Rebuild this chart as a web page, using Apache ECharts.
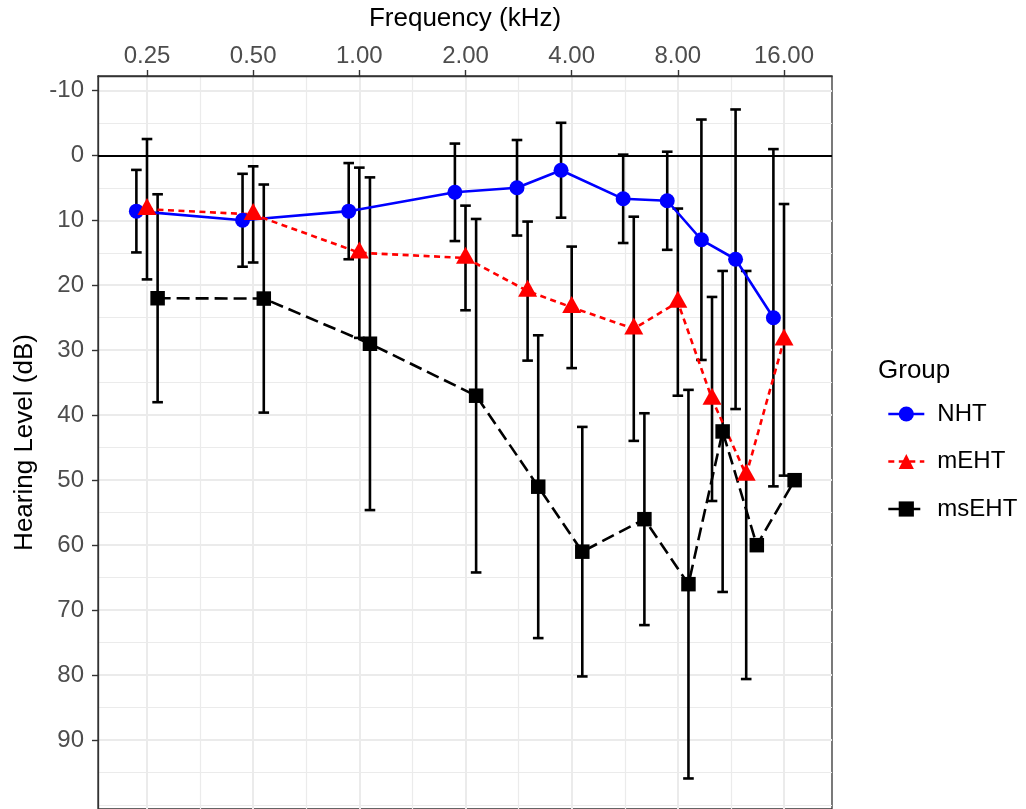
<!DOCTYPE html>
<html><head><meta charset="utf-8">
<script src="https://cdn.jsdelivr.net/npm/echarts@6/dist/echarts.min.js"></script>
<style>html,body{margin:0;padding:0;background:#fff}#c{width:1026px;height:809px}</style>
</head><body><div id="c"></div>
<script>
// ---- data ----
const freqs = [0.25, 0.5, 1, 2, 3, 4, 6, 8, 10, 12.5, 16];          // kHz
const groups = ['NHT', 'mEHT', 'msEHT'];
const nhtMean  = [8.6, 10.0, 8.6, 5.7, 5.0, 2.3, 6.7, 7.0, 13.0, 16.0, 25.0];
const nhtSd    = [6.35, 7.15, 7.4, 7.5, 7.35, 7.3, 6.8, 7.55, 18.5, 23.05, 25.95];
const mehtMean = [8.3, 9.1, 15.0, 15.8, 20.9, 23.4, 26.7, 22.6, 37.5, 49.2, 28.4];
const mehtSd   = [10.8, 7.4, 13.1, 8.05, 10.7, 9.35, 17.25, 14.4, 15.7, 31.4, 20.9];
const msehtMean = [22.0, 22.05, 29.0, 37.0, 51.0, 61.0, 56.0, 66.0, 42.5, 60.0, 50.0];
const msehtSd   = [16.0, 17.55, 25.6, 27.2, 23.3, 19.2, 16.3, 29.9, 24.7, null, null];
const xTickFreqs = [0.25, 0.5, 1, 2, 4, 8, 16];
const yTicks = [-10, 0, 10, 20, 30, 40, 50, 60, 70, 80, 90];
const yMinorTicks = [-5, 5, 15, 25, 35, 45, 55, 65, 75, 85, 95, 100];

// ---- layout / style ----
const FONT = "'Liberation Sans', Arial, Helvetica, sans-serif";
const dodge = 0.1;       // log2 units
const capHalf = 0.05;    // log2 units
const xMin = -2.4615, xMax = 4.452;
const yMin = -12.2, yMax = 100.6;
const l2 = Math.log2;
const xMajor = xTickFreqs.map(l2);
const xMinor = xMajor.slice(0, -1).map(v => v + 0.5);

const colors = {NHT: '#0000FF', mEHT: '#FF0000', msEHT: '#000000'};
const means = {NHT: nhtMean, mEHT: mehtMean, msEHT: msehtMean};
const sds = {NHT: nhtSd, mEHT: mehtSd, msEHT: msehtSd};
const offsets = {NHT: -dodge, mEHT: 0, msEHT: dodge};

function pts(g) { return freqs.map((f, i) => [l2(f) + offsets[g], means[g][i]]); }
function bars(g) {
  const out = [];
  freqs.forEach((f, i) => {
    const s = sds[g][i];
    if (s != null) out.push([l2(f) + offsets[g], means[g][i] - s, means[g][i] + s]);
  });
  return out;
}

function errRender(params, api) {
  const x = api.value(0), lo = api.value(1), hi = api.value(2);
  const a = api.coord([x, lo]), b = api.coord([x, hi]);
  const al = api.coord([x - capHalf, lo]), ar = api.coord([x + capHalf, lo]);
  const bl = api.coord([x - capHalf, hi]), br = api.coord([x + capHalf, hi]);
  const st = {stroke: '#000', lineWidth: 2.6};
  return {type: 'group', children: [
    {type: 'line', shape: {x1: a[0], y1: a[1], x2: b[0], y2: b[1]}, style: st},
    {type: 'line', shape: {x1: al[0], y1: al[1], x2: ar[0], y2: ar[1]}, style: st},
    {type: 'line', shape: {x1: bl[0], y1: bl[1], x2: br[0], y2: br[1]}, style: st}
  ]};
}

const series = [];
groups.forEach(g => {
  series.push({
    name: g + ' sd', type: 'custom', renderItem: errRender, data: bars(g),
    encode: {x: 0, y: [1, 2]}, z: 2, silent: true, clip: false
  });
});
series.push({
  name: 'NHT', type: 'line', data: pts('NHT'), z: 3,
  symbol: 'circle', symbolSize: 15, color: colors.NHT,
  itemStyle: {color: colors.NHT},
  lineStyle: {color: colors.NHT, width: 2.6, type: 'solid'},
  markLine: {silent: true, symbol: 'none', label: {show: false},
    lineStyle: {color: '#000', width: 2, type: 'solid'}, data: [{yAxis: 0}]}
});
series.push({
  name: 'mEHT', type: 'line', data: pts('mEHT'), z: 3,
  symbol: 'triangle', symbolSize: [19, 17], symbolOffset: [0, -2.8], color: colors.mEHT,
  itemStyle: {color: colors.mEHT},
  lineStyle: {color: colors.mEHT, width: 2.6, type: [6, 4.5]}
});
series.push({
  name: 'msEHT', type: 'line', data: pts('msEHT'), z: 3,
  symbol: 'rect', symbolSize: 14.5, color: colors.msEHT,
  itemStyle: {color: colors.msEHT},
  lineStyle: {color: colors.msEHT, width: 2.6, type: [13, 6]}
});

const noLine = {show: false, onZero: false};
const borderLine = {show: true, onZero: false, lineStyle: {color: '#333', width: 1.3}};
const chart = echarts.init(document.getElementById('c'), null, {renderer: 'canvas'});
chart.setOption({
  animation: false,
  backgroundColor: '#fff',
  textStyle: {fontFamily: FONT},
  title: {text: 'Group', left: 878, top: 358, padding: 0,
    textStyle: {fontSize: 26, fontWeight: 'normal', color: '#000', fontFamily: FONT}},
  legend: {
    data: groups, orient: 'vertical', left: 882, top: 397,
    itemWidth: 36, itemHeight: 19, itemGap: 23.5,
    lineStyle: {width: 2.6},
    textStyle: {fontSize: 24, color: '#000', fontFamily: FONT, padding: [0, 0, 0, 8]}
  },
  grid: {left: 98, top: 76, width: 734, height: 733.2, show: true,
    borderColor: '#333', borderWidth: 1.3, backgroundColor: '#fff', containLabel: false},
  xAxis: [{
    type: 'value', position: 'top', min: xMin, max: xMax,
    name: 'Frequency (kHz)', nameLocation: 'middle', nameGap: 44,
    nameTextStyle: {fontSize: 26, color: '#000', fontFamily: FONT},
    axisLine: borderLine,
    axisTick: {show: true, inside: false, customValues: xMajor, length: 6, lineStyle: {color: '#333', width: 1.4}},
    axisLabel: {customValues: xMajor, margin: 8, fontSize: 24, color: '#4D4D4D', fontFamily: FONT,
      formatter: v => Math.pow(2, v).toFixed(2)},
    splitLine: {show: true, lineStyle: {color: '#EBEBEB', width: 2}}
  }, {
    type: 'value', position: 'top', min: xMin, max: xMax,
    axisLine: noLine,
    axisTick: {show: false, customValues: xMinor},
    axisLabel: {show: false, customValues: xMinor},
    splitLine: {show: true, lineStyle: {color: '#EBEBEB', width: 1.2}}
  }],
  yAxis: [{
    type: 'value', inverse: true, min: yMin, max: yMax, position: 'left',
    name: 'Hearing Level (dB)', nameLocation: 'middle', nameGap: 60,
    nameTextStyle: {fontSize: 26, color: '#000', fontFamily: FONT},
    axisLine: borderLine,
    axisTick: {show: true, inside: false, customValues: yTicks, length: 6, lineStyle: {color: '#333', width: 1.4}},
    axisLabel: {customValues: yTicks, margin: 14, fontSize: 24, color: '#4D4D4D', fontFamily: FONT},
    splitLine: {show: true, lineStyle: {color: '#EBEBEB', width: 2}}
  }, {
    type: 'value', inverse: true, min: yMin, max: yMax, position: 'left',
    axisLine: noLine,
    axisTick: {show: false, customValues: yMinorTicks},
    axisLabel: {show: false, customValues: yMinorTicks},
    splitLine: {show: true, lineStyle: {color: '#EBEBEB', width: 1.2}}
  }],
  series: series
});
</script></body></html>
